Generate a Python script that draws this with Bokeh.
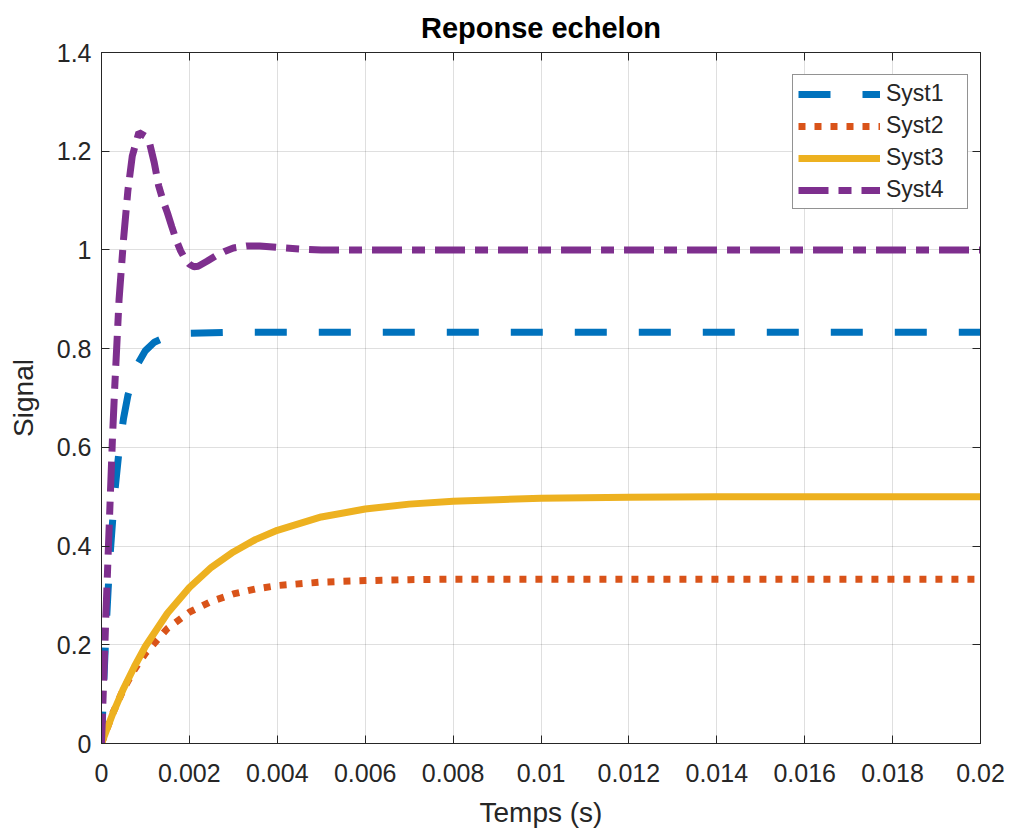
from bokeh.plotting import figure
from bokeh.models import (LinearAxis, FixedTicker, Legend, LegendItem, Range1d,
                          CustomJSTickFormatter)
from bokeh.embed import file_html
from bokeh.resources import INLINE

# ---------------- data ----------------
series_names = ["Syst1", "Syst2", "Syst3", "Syst4"]

t_syst1 = [0, 0.00005, 0.0001, 0.00015, 0.0002, 0.0003, 0.0004, 0.0005, 0.0006,
           0.0008, 0.001, 0.0012, 0.0015, 0.002, 0.003, 0.02]
syst1 = [0, 0.12, 0.223, 0.31, 0.387, 0.507, 0.594, 0.658, 0.705,
         0.765, 0.796, 0.813, 0.825, 0.831, 0.833, 0.833]

t_slow = [0, 0.00025, 0.0005, 0.00075, 0.001, 0.0015, 0.002, 0.0025, 0.003, 0.0035,
          0.004, 0.005, 0.006, 0.007, 0.008, 0.009, 0.01, 0.012, 0.014, 0.016, 0.02]
syst2 = [0, 0.060, 0.110, 0.150, 0.183, 0.233, 0.266, 0.288, 0.303, 0.313,
         0.320, 0.327, 0.330, 0.332, 0.333, 0.333, 0.333, 0.333, 0.333, 0.333, 0.333]
syst3 = [0, 0.059, 0.111, 0.156, 0.197, 0.264, 0.316, 0.357, 0.388, 0.413,
         0.432, 0.459, 0.475, 0.485, 0.491, 0.494, 0.497, 0.499, 0.5, 0.5, 0.5]

t_syst4 = [0, 0.00005, 0.0001, 0.00015, 0.0002, 0.00025, 0.0003, 0.0004, 0.0005,
           0.0006, 0.0007, 0.00085, 0.001, 0.0011, 0.0012, 0.0013, 0.0014, 0.0015,
           0.0016, 0.0017, 0.0018, 0.0019, 0.002, 0.0021, 0.0022, 0.0024, 0.0026,
           0.0028, 0.003, 0.0033, 0.0036, 0.004, 0.0045, 0.005, 0.006, 0.02]
syst4 = [0, 0.13, 0.26, 0.38, 0.5, 0.62, 0.72, 0.9, 1.02,
         1.12, 1.19, 1.238, 1.23, 1.214, 1.177, 1.13, 1.10, 1.075,
         1.047, 1.02, 0.998, 0.982, 0.971, 0.966, 0.967, 0.977, 0.988,
         0.997, 1.004, 1.008, 1.008, 1.005, 1.002, 1.0, 1.0, 1.0]

x_ticks = [0, 0.002, 0.004, 0.006, 0.008, 0.01, 0.012, 0.014, 0.016, 0.018, 0.02]
x_tick_labels = ["0", "0.002", "0.004", "0.006", "0.008", "0.01", "0.012",
                 "0.014", "0.016", "0.018", "0.02"]
y_ticks = [0, 0.2, 0.4, 0.6, 0.8, 1.0, 1.2, 1.4]
y_tick_labels = ["0", "0.2", "0.4", "0.6", "0.8", "1", "1.2", "1.4"]

# ---------------- styling ----------------
FONT = "Liberation Sans"
AX = "#262626"

p = figure(frame_width=879, frame_height=691,
           x_range=Range1d(0, 0.02), y_range=Range1d(0, 1.4),
           output_backend="svg", toolbar_location=None,
           title="Reponse echelon",
           min_border_left=101, min_border_right=26,
           min_border_top=52, min_border_bottom=81,
           background_fill_color="white", border_fill_color="white")

p.title.text_font = FONT
p.title.text_font_size = "29px"
p.title.text_font_style = "bold"
p.title.text_color = "#000000"
p.title.align = "center"
p.title.offset = 0
p.title.standoff = 17

p.outline_line_color = AX
p.outline_line_width = 1

for ax, ticks, labels in ((p.xaxis[0], x_ticks, x_tick_labels),
                          (p.yaxis[0], y_ticks, y_tick_labels)):
    ax.ticker = FixedTicker(ticks=ticks, minor_ticks=[])
    ax.major_label_overrides = {tk: lb for tk, lb in zip(ticks, labels)}
    ax.major_label_text_font = FONT
    ax.major_label_text_font_size = "25px"
    ax.major_label_text_color = AX
    ax.axis_line_color = AX
    ax.major_tick_line_color = AX
    ax.major_tick_in = 8
    ax.major_tick_out = 0
    ax.minor_tick_line_color = None
    ax.axis_label_text_font = FONT
    ax.axis_label_text_font_size = "28px"
    ax.axis_label_text_font_style = "normal"
    ax.axis_label_text_color = AX

p.xaxis[0].axis_label = "Temps (s)"
p.yaxis[0].axis_label = "Signal"
p.xaxis[0].major_label_standoff = 20
p.xaxis[0].axis_label_standoff = 12
p.yaxis[0].major_label_standoff = 10
p.yaxis[0].axis_label_standoff = 15

empty_fmt = CustomJSTickFormatter(code="return '';")
top_axis = LinearAxis(ticker=FixedTicker(ticks=x_ticks, minor_ticks=[]),
                      formatter=empty_fmt, major_tick_in=8, major_tick_out=0,
                      axis_line_color=AX, major_tick_line_color=AX,
                      minor_tick_line_color=None, major_label_standoff=0)
right_axis = LinearAxis(ticker=FixedTicker(ticks=y_ticks, minor_ticks=[]),
                        formatter=empty_fmt, major_tick_in=8, major_tick_out=0,
                        axis_line_color=AX, major_tick_line_color=AX,
                        minor_tick_line_color=None, major_label_standoff=0)
p.add_layout(top_axis, "above")
p.add_layout(right_axis, "right")

p.xgrid.ticker = FixedTicker(ticks=x_ticks, minor_ticks=[])
p.ygrid.ticker = FixedTicker(ticks=y_ticks, minor_ticks=[])
p.grid.grid_line_color = AX
p.grid.grid_line_alpha = 0.15
p.grid.grid_line_width = 1

LW = 7
r1 = p.line(t_syst1, syst1, line_color="#0072BD", line_width=LW, line_dash="32 32")
r2 = p.line(t_slow, syst2, line_color="#D95319", line_width=LW, line_dash="7 9")
r3 = p.line(t_slow, syst3, line_color="#EDB120", line_width=LW)
r4 = p.line(t_syst4, syst4, line_color="#7E2F8E", line_width=LW, line_dash="30 10 13 10")

legend = Legend(items=[LegendItem(label=n, renderers=[r])
                       for n, r in zip(series_names, [r1, r2, r3, r4])],
                location=(691, 534))
legend.glyph_width = 82
legend.glyph_height = 24
legend.label_height = 24
legend.label_width = 76
legend.spacing = 5
legend.padding = 5
legend.label_standoff = 6
legend.label_text_font = FONT
legend.label_text_font_size = "23px"
legend.label_text_color = AX
legend.border_line_color = AX
legend.border_line_width = 1
legend.background_fill_color = "white"
legend.background_fill_alpha = 1.0
legend.margin = 0
p.add_layout(legend)

open("out.html", "w").write(file_html(p, INLINE))
